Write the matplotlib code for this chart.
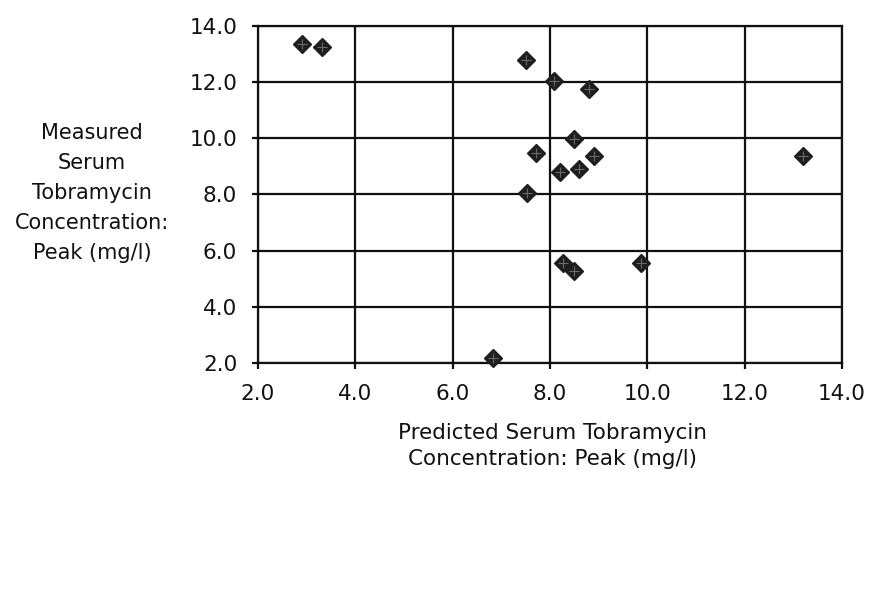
import matplotlib
matplotlib.use("Agg")
import matplotlib.pyplot as plt

# Data
predicted = [2.90, 3.31, 7.50, 8.08, 8.80, 8.49, 7.71, 8.90, 8.20, 8.60, 7.52, 13.20, 8.27, 8.49, 9.88, 6.83]
measured  = [13.36, 13.26, 12.79, 12.04, 11.75, 9.97, 9.47, 9.37, 8.79, 8.90, 8.06, 9.37, 5.55, 5.29, 5.57, 2.17]
x_ticks = [2.0, 4.0, 6.0, 8.0, 10.0, 12.0, 14.0]
y_ticks = [2.0, 4.0, 6.0, 8.0, 10.0, 12.0, 14.0]
tick_labels_x = ["2.0", "4.0", "6.0", "8.0", "10.0", "12.0", "14.0"]
tick_labels_y = ["2.0", "4.0", "6.0", "8.0", "10.0", "12.0", "14.0"]
x_label = "Predicted Serum Tobramycin\nConcentration: Peak (mg/l)"
y_label = "Measured\nSerum\nTobramycin\nConcentration:\nPeak (mg/l)"

plt.rcParams['font.family'] = ['DejaVu Sans']

fig = plt.figure(figsize=(8.75, 5.96), dpi=100)
W, H = 875, 596
left, right, top, bottom = 258, 842, 26, 363
ax = fig.add_axes([left / W, 1 - bottom / H, (right - left) / W, (bottom - top) / H])

ax.set_xlim(2, 14)
ax.set_ylim(2, 14)
ax.set_xticks(x_ticks)
ax.set_yticks(y_ticks)
ax.set_xticklabels(tick_labels_x, fontsize=15.5, color="#111111")
ax.set_yticklabels(tick_labels_y, fontsize=15.5, color="#111111")
ax.grid(True, color="#111111", linewidth=1.6)
ax.set_axisbelow(True)
for s in ax.spines.values():
    s.set_color("#111111")
    s.set_linewidth(1.6)
ax.tick_params(direction="out", length=4, width=1.6, color="#111111")
ax.tick_params(axis="x", pad=11)
ax.tick_params(axis="y", pad=11)

ax.plot(predicted, measured, linestyle="none", marker="D", markersize=9,
        color="#1e1e1e", markeredgecolor="#1e1e1e", zorder=3, clip_on=False)
ax.plot(predicted, measured, linestyle="none", marker="+", markersize=7,
        markeredgewidth=0.8, color="#6a6a6a", zorder=4, clip_on=False)

fig.text(552 / W, 1 - 446 / H, x_label, ha="center", va="center", fontsize=15.5,
         linespacing=1.35, color="#111111")
fig.text(92 / W, 1 - 193 / H, y_label, ha="center", va="center", fontsize=15,
         linespacing=1.62, color="#111111")

fig.savefig("out.png", dpi=100, facecolor="white")
